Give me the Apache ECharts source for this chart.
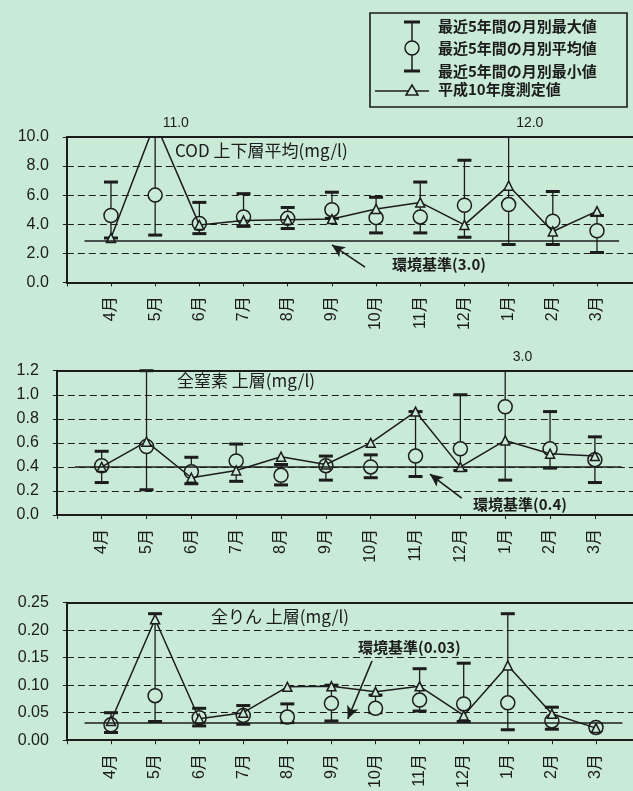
<!DOCTYPE html>
<html><head><meta charset="utf-8">
<script src="https://cdn.jsdelivr.net/npm/echarts@6/dist/echarts.min.js"></script>
<style>html,body{margin:0;padding:0;background:#c8ead6;} #c{width:633px;height:791px;}</style>
</head><body><div id="c"></div>
<script>
// ---- data ----
const months = ['4月','5月','6月','7月','8月','9月','10月','11月','12月','1月','2月','3月'];

const codMax  = [6.9, 11.0, 5.5, 6.1, 5.15, 6.2, 5.85, 6.9, 8.4, 12.0, 6.25, 4.6];
const codMean = [4.6, 6.0, 4.05, 4.5, 4.4, 5.0, 4.45, 4.5, 5.3, 5.35, 4.2, 3.55];
const codMin  = [3.05, 3.25, 3.35, 3.85, 3.7, 4.4, 3.4, 3.4, 3.1, 2.6, 2.6, 2.05];
const codH10  = [3.05, 11.0, 3.95, 4.25, 4.3, 4.35, 5.05, 5.5, 3.95, 6.65, 3.5, 4.9];

const tnMax  = [0.53, 1.2, 0.48, 0.59, 0.42, 0.49, 0.50, 0.86, 1.0, 3.0, 0.86, 0.65];
const tnMean = [0.41, 0.57, 0.36, 0.45, 0.33, 0.41, 0.40, 0.49, 0.55, 0.90, 0.55, 0.46];
const tnMin  = [0.27, 0.21, 0.26, 0.28, 0.25, 0.29, 0.31, 0.32, 0.37, 0.29, 0.39, 0.27];
const tnH10  = [0.40, 0.61, 0.31, 0.37, 0.485, 0.42, 0.60, 0.86, 0.40, 0.62, 0.51, 0.49];

const tpMax  = [0.050, 0.23, 0.058, 0.063, 0.066, 0.100, 0.082, 0.13, 0.14, 0.23, 0.060, 0.028];
const tpMean = [0.028, 0.081, 0.041, 0.045, 0.042, 0.067, 0.058, 0.073, 0.066, 0.068, 0.035, 0.023];
const tpMin  = [0.014, 0.034, 0.026, 0.029, 0.032, 0.035, 0.050, 0.053, 0.034, 0.019, 0.020, 0.018];
const tpH10  = [0.035, 0.22, 0.039, 0.050, 0.097, 0.098, 0.088, 0.098, 0.045, 0.136, 0.048, 0.022];

// 環境基準 line levels as drawn in the picture
const stdLevels = [2.85, 0.40, 0.032];
const stdLabels = ['環境基準(3.0)', '環境基準(0.4)', '環境基準(0.03)'];
const titles = ['COD 上下層平均(mg/l)', '全窒素 上層(mg/l)', '全りん 上層(mg/l)'];
const legendTexts = ['最近5年間の月別最大値', '最近5年間の月別平均値', '最近5年間の月別最小値', '平成10年度測定値'];

// ---- styling / layout ----
const BG = '#c8ead6';
const INK = '#1c1c1c';
const FONT = '"Liberation Sans", "Noto Sans CJK JP", sans-serif';
const JFONT = '"Noto Sans CJK JP", "Liberation Sans", sans-serif';

const panels = [
  {hi: codMax, mean: codMean, lo: codMin, h10: codH10, yMax: 10, interval: 2, dec: 1,
   left: 66.8, top: 137, bottom: 282.3, xMax: 11.815, stdFrom: -0.6, stdTo: 11.5,
   arrow: [[5.75, 1.05], [5.0, 2.57]],
   titlePos: [175, 153], stdPos: [392, 267]},
  {hi: tnMax, mean: tnMean, lo: tnMin, h10: tnH10, yMax: 1.2, interval: 0.2, dec: 1,
   left: 56.85, top: 370.7, bottom: 515, xMax: 11.85, stdFrom: -0.6, stdTo: 11.6,
   arrow: [[8.03, 0.141], [7.32, 0.34]],
   titlePos: [177, 383], stdPos: [473, 507]},
  {hi: tpMax, mean: tpMean, lo: tpMin, h10: tpH10, yMax: 0.25, interval: 0.05, dec: 2,
   left: 66.9, top: 602.7, bottom: 745, xMax: 11.84, stdFrom: -0.6, stdTo: 11.6,
   arrow: [[5.92, 0.144], [5.37, 0.0386]],
   titlePos: [211, 619], stdPos: [358, 650]}
];

function errRender(yMax) {
  return function (params, api) {
    const x = api.value(0), lo = api.value(1), hi = api.value(2);
    const top = api.coord([x, Math.min(hi, yMax)]);
    const bot = api.coord([x, lo]);
    const cw = 14, ch = 3;
    const children = [{type: 'line', shape: {x1: top[0], y1: top[1], x2: bot[0], y2: bot[1]},
      style: {stroke: INK, lineWidth: 1.3}}];
    if (hi <= yMax) children.push({type: 'rect', shape: {x: top[0] - cw / 2, y: top[1] - ch / 2, width: cw, height: ch}, style: {fill: INK}});
    children.push({type: 'rect', shape: {x: bot[0] - cw / 2, y: bot[1] - ch / 2, width: cw, height: ch}, style: {fill: INK}});
    return {type: 'group', children};
  };
}

const grid = [], xAxis = [], yAxis = [], series = [], graphic = [];

panels.forEach((p, k) => {
  grid.push({left: p.left, right: 0, top: p.top, height: p.bottom - p.top, containLabel: false});
  xAxis.push({
    type: 'value', gridIndex: k, min: -1, max: p.xMax, interval: 1,
    axisLine: {show: true, onZero: false, lineStyle: {color: INK, width: 2}},
    axisTick: {show: true, length: 4, lineStyle: {color: INK, width: 1}},
    axisLabel: {show: true, rotate: 90, margin: 14, fontSize: 16, color: INK, fontFamily: FONT,
      formatter: v => (Number.isInteger(v) && v >= 0 && v < months.length) ? months[v] : ''},
    splitLine: {show: false}
  });
  xAxis.push({
    type: 'value', gridIndex: k, position: 'top', min: -1, max: p.xMax,
    axisLine: {show: true, onZero: false, lineStyle: {color: INK, width: 2}},
    axisTick: {show: false}, axisLabel: {show: false}, splitLine: {show: false}
  });
  yAxis.push({
    type: 'value', gridIndex: k, min: 0, max: p.yMax, interval: p.interval,
    axisLine: {show: true, onZero: false, lineStyle: {color: INK, width: 2}},
    axisTick: {show: true, length: 4, lineStyle: {color: INK, width: 1}},
    axisLabel: {margin: 18, fontSize: 16, color: INK, fontFamily: FONT, formatter: v => v.toFixed(p.dec)},
    splitLine: {show: true, lineStyle: {color: INK, width: 1.2, type: [7, 4]}}
  });
  const xi = k * 2;
  series.push({
    type: 'custom', xAxisIndex: xi, yAxisIndex: k, renderItem: errRender(p.yMax),
    encode: {x: 0, y: [1, 2]}, z: 2, silent: true,
    data: months.map((m, i) => [i, p.lo[i], p.hi[i]])
  });
  const overflow = [];
  p.hi.forEach((v, i) => { if (v > p.yMax) overflow.push({coord: [i, p.yMax], value: v}); });
  series.push({
    type: 'scatter', xAxisIndex: xi, yAxisIndex: k, z: 3, silent: true,
    symbol: 'circle', symbolSize: 14,
    itemStyle: {color: BG, borderColor: INK, borderWidth: 1.5, opacity: 1},
    data: p.mean.map((v, i) => [i, v]),
    markLine: {
      silent: true, animation: false, label: {show: false},
      data: [
        [{coord: [p.stdFrom, stdLevels[k]], symbol: 'none'}, {coord: [p.stdTo, stdLevels[k]], symbol: 'none'}],
        [{coord: p.arrow[0], symbol: 'none'}, {coord: p.arrow[1], symbol: 'arrow', symbolSize: [9, 13]}]
      ],
      lineStyle: {color: INK, width: 1.6, type: 'solid'},
      emphasis: {disabled: true}
    },
    markPoint: {
      silent: true, animation: false, symbol: 'circle', symbolSize: 1,
      itemStyle: {color: 'rgba(0,0,0,0)'},
      label: {show: true, position: [8, -20], fontSize: 14, color: INK, fontFamily: FONT,
        formatter: q => Number(q.value).toFixed(1)},
      data: overflow
    }
  });
  series.push({
    type: 'line', xAxisIndex: xi, yAxisIndex: k, z: 4, silent: true, clip: true,
    symbol: 'triangle', symbolSize: 9, showAllSymbol: true,
    lineStyle: {color: INK, width: 1.5},
    itemStyle: {color: BG, borderColor: INK, borderWidth: 1.5},
    data: p.h10.map((v, i) => [i, v])
  });
  graphic.push({type: 'text', left: p.titlePos[0], top: p.titlePos[1] - 11, z: 10,
    style: {text: titles[k], font: '17px ' + JFONT, fill: INK}});
  graphic.push({type: 'text', left: p.stdPos[0], top: p.stdPos[1] - 10, z: 10,
    style: {text: stdLabels[k], font: 'bold 15px ' + JFONT, fill: INK}});
});

// legend box
const lgX = 412;
graphic.push({type: 'rect', shape: {x: 370, y: 13, width: 257, height: 94}, style: {fill: 'none', stroke: INK, lineWidth: 1.6}, z: 10});
graphic.push({type: 'line', shape: {x1: lgX, y1: 22, x2: lgX, y2: 71}, style: {stroke: INK, lineWidth: 1.5}, z: 10});
graphic.push({type: 'rect', shape: {x: lgX - 8, y: 20.5, width: 16, height: 3}, style: {fill: INK}, z: 10});
graphic.push({type: 'rect', shape: {x: lgX - 8, y: 69.5, width: 16, height: 3}, style: {fill: INK}, z: 10});
graphic.push({type: 'circle', shape: {cx: lgX, cy: 48, r: 7}, style: {fill: BG, stroke: INK, lineWidth: 1.5}, z: 11});
graphic.push({type: 'line', shape: {x1: 375, y1: 91, x2: 429, y2: 91}, style: {stroke: INK, lineWidth: 1.5}, z: 10});
graphic.push({type: 'polygon', shape: {points: [[lgX, 85], [lgX - 6, 95], [lgX + 6, 95]]}, style: {fill: BG, stroke: INK, lineWidth: 1.5}, z: 11});
const lgY = [28, 50, 73, 91];
legendTexts.forEach((t, i) => {
  graphic.push({type: 'text', left: 438, top: lgY[i] - 9, z: 11,
    style: {text: t, font: 'bold 15px ' + JFONT, fill: INK}});
});

const chart = echarts.init(document.getElementById('c'), null, {renderer: 'canvas'});
chart.setOption({
  backgroundColor: BG, animation: false,
  textStyle: {fontFamily: FONT},
  grid, xAxis, yAxis, series, graphic
});
</script></body></html>
